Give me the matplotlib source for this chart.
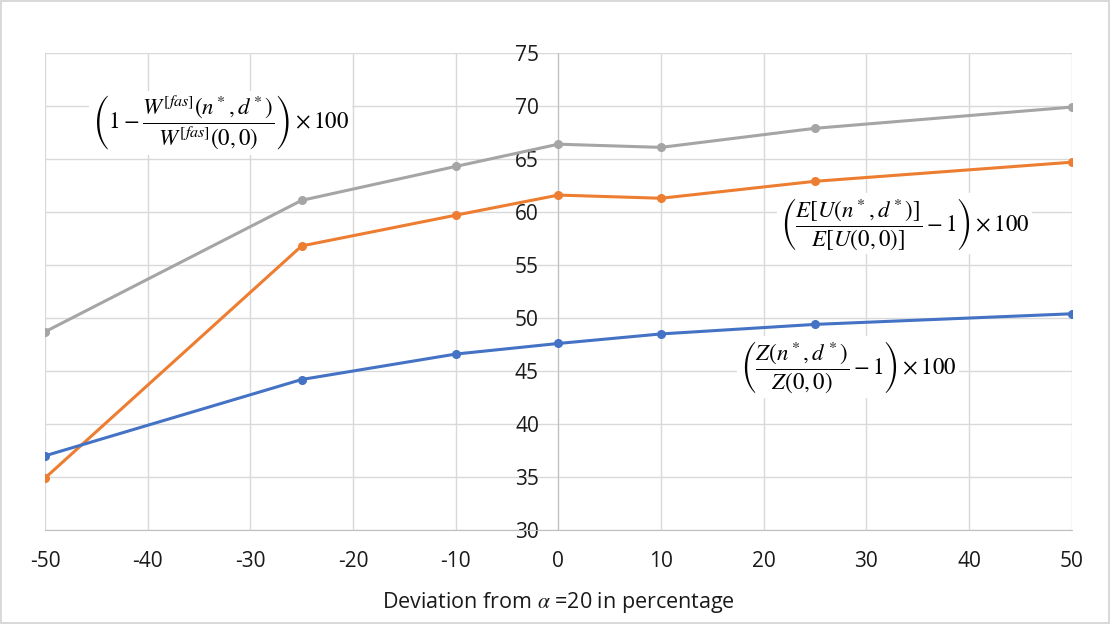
import matplotlib.pyplot as plt
import numpy as np

plt.rcParams['font.family'] = ['Open Sans', 'DejaVu Sans']
plt.rcParams['mathtext.fontset'] = 'stix'
plt.rcParams['axes.unicode_minus'] = False

# deviation from alpha = 20, in percent
deviation = [-50, -25, -10, 0, 10, 25, 50]
welfare_gain = [48.7, 61.1, 64.3, 66.4, 66.1, 67.9, 69.9]
utility_gain = [34.9, 56.8, 59.7, 61.6, 61.3, 62.9, 64.7]
z_gain = [37.0, 44.2, 46.6, 47.6, 48.5, 49.4, 50.4]

x_ticks = np.arange(-50, 51, 10)
y_ticks = np.arange(30, 76, 5)

fig = plt.figure(figsize=(11.1, 6.24), dpi=100)
fig.patch.set_edgecolor('#D9D9D9')
fig.patch.set_linewidth(1.5)
ax = fig.add_axes([0.0405, 0.1506, 0.925, 0.7644])

grid_c = '#D9D9D9'
ax.plot(deviation, welfare_gain, '-o', color='#A5A5A5', lw=2.2, ms=5.5, zorder=3)
ax.plot(deviation, utility_gain, '-o', color='#ED7D31', lw=2.2, ms=5.5, zorder=3)
ax.plot(deviation, z_gain, '-o', color='#4472C4', lw=2.2, ms=5.5, zorder=3)

ax.set_xlim(-50, 50)
ax.set_ylim(30, 75)
ax.set_xticks(x_ticks)
ax.set_yticks(y_ticks)
ax.grid(True, color=grid_c, lw=1.0)
ax.set_axisbelow(True)

for s in ['top', 'right']:
    ax.spines[s].set_visible(False)
ax.spines['left'].set_position(('data', 0))
ax.spines['left'].set_color('#BFBFBF')
ax.spines['bottom'].set_color('#BFBFBF')
ax.tick_params(axis='both', length=0, labelsize=15, colors='#1a1a1a')
ax.tick_params(axis='x', pad=15)
ax.tick_params(axis='y', pad=14)

ax.set_xlabel(r'Deviation from $\alpha$ =20 in percentage', fontsize=15.5, color='#1a1a1a', labelpad=13)

box = dict(facecolor='white', edgecolor='none', pad=2)
ax.text(-32.9, 68.4,
        r'$\left(1-\dfrac{W^{[fas]}(n^*,d^*)}{W^{[fas]}(0,0)}\right)\times 100$',
        fontsize=16.5, ha='center', va='center', bbox=box, zorder=4)
ax.text(33.7, 58.9,
        r'$\left(\dfrac{E[U(n^*,d^*)]}{E[U(0,0)]}-1\right)\times 100$',
        fontsize=16.5, ha='center', va='center', bbox=box, zorder=4)
ax.text(28.2, 45.4,
        r'$\left(\dfrac{Z(n^*,d^*)}{Z(0,0)}-1\right)\times 100$',
        fontsize=16.5, ha='center', va='center', bbox=box, zorder=4)

fig.savefig('out.png', dpi=100)
